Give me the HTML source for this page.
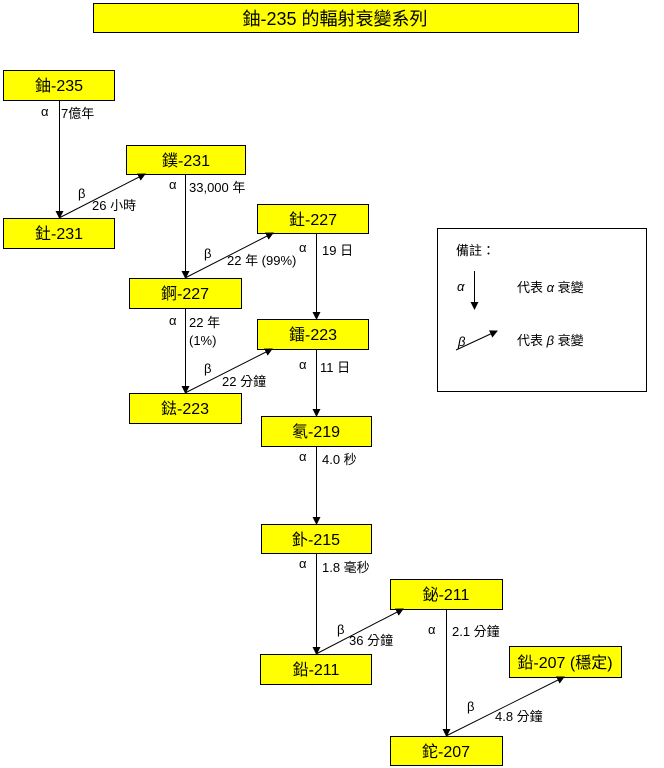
<!DOCTYPE html>
<html><head><meta charset="utf-8"><style>
body{margin:0;background:#fff;}
svg{display:block;}
text{font-family:"Liberation Sans","Noto Sans CJK TC",sans-serif;font-size:13px;fill:#000;}
.b text{font-size:16px;}
.b text.t{font-size:18px;}
</style></head><body>
<svg width="664" height="768" viewBox="0 0 664 768" xmlns="http://www.w3.org/2000/svg">
<defs><marker id="a" markerWidth="8" markerHeight="8" refX="7" refY="4" orient="auto" markerUnits="userSpaceOnUse"><path d="M0,0 L8,4 L0,8 z" fill="#000"/></marker></defs>
<g fill="#ffff00" stroke="#000" stroke-width="1">
<rect x="93.5" y="3.5" width="485" height="29"/>
<rect x="3.5" y="70.5" width="111" height="30"/>
<rect x="126.5" y="145.5" width="119" height="29"/>
<rect x="3.5" y="218.5" width="111" height="30"/>
<rect x="257.5" y="204.5" width="111" height="29"/>
<rect x="129.5" y="278.5" width="112" height="30"/>
<rect x="257.5" y="319.5" width="111" height="30"/>
<rect x="129.5" y="393.5" width="112" height="30"/>
<rect x="261.5" y="416.5" width="110" height="30"/>
<rect x="261.5" y="524.5" width="110" height="29"/>
<rect x="390.5" y="579.5" width="112" height="30"/>
<rect x="260.5" y="654.5" width="111" height="30"/>
<rect x="509.5" y="646.5" width="112" height="31"/>
<rect x="390.5" y="736.5" width="112" height="29"/>
</g>
<rect x="437.5" y="228.5" width="209" height="163" fill="none" stroke="#000"/>
<g class="b" text-anchor="middle">
<text class="t" x="335" y="25">鈾-235 的輻射衰變系列</text>
<text x="59" y="91">鈾-235</text>
<text x="186" y="166">鏷-231</text>
<text x="59" y="239">釷-231</text>
<text x="313" y="225">釷-227</text>
<text x="185" y="299">錒-227</text>
<text x="313" y="340">鐳-223</text>
<text x="185" y="414">鍅-223</text>
<text x="316" y="437">氡-219</text>
<text x="316" y="545">釙-215</text>
<text x="446" y="600">鉍-211</text>
<text x="316" y="675">鉛-211</text>
<text x="565" y="668">鉛-207 (穩定)</text>
<text x="446" y="757">鉈-207</text>
</g>
<g stroke="#000" stroke-width="1" marker-end="url(#a)">
<line x1="59.5" y1="101" x2="59.5" y2="218"/>
<line x1="185.5" y1="175" x2="185.5" y2="278"/>
<line x1="185.5" y1="309" x2="185.5" y2="393"/>
<line x1="316.5" y1="234" x2="316.5" y2="319"/>
<line x1="316.5" y1="350" x2="316.5" y2="416"/>
<line x1="316.5" y1="447" x2="316.5" y2="524"/>
<line x1="316.5" y1="554" x2="316.5" y2="654"/>
<line x1="446.5" y1="610" x2="446.5" y2="736"/>
<line x1="59" y1="218" x2="145" y2="174"/>
<line x1="185" y1="278" x2="273" y2="233"/>
<line x1="185" y1="393" x2="272" y2="349"/>
<line x1="316" y1="654" x2="403" y2="609"/>
<line x1="446" y1="736" x2="564" y2="677"/>
<line x1="474.5" y1="271" x2="474.5" y2="309"/>
<line x1="456" y1="350" x2="497" y2="331"/>
</g>
<text x="41" y="116">α</text><text x="61" y="118">7億年</text>
<text x="78" y="198">β</text><text x="92" y="210">26 小時</text>
<text x="169" y="189">α</text><text x="189" y="192">33,000 年</text>
<text x="204" y="258">β</text><text x="227" y="265">22 年 (99%)</text>
<text x="299" y="252">α</text><text x="322" y="255">19 日</text>
<text x="169" y="325">α</text><text x="189" y="327">22 年</text><text x="189" y="345">(1%)</text>
<text x="204" y="373">β</text><text x="222" y="386">22 分鐘</text>
<text x="299" y="369">α</text><text x="320" y="372">11 日</text>
<text x="299" y="461">α</text><text x="322" y="464">4.0 秒</text>
<text x="299" y="568">α</text><text x="322" y="572">1.8 毫秒</text>
<text x="337" y="634">β</text><text x="349" y="645">36 分鐘</text>
<text x="428" y="634">α</text><text x="452" y="636">2.1 分鐘</text>
<text x="467" y="711">β</text><text x="495" y="721">4.8 分鐘</text>
<text x="456" y="255">備註：</text>
<text x="457" y="291" font-style="italic">α</text>
<text x="517" y="292">代表 <tspan font-style="italic">α</tspan> 衰變</text>
<text x="458" y="346" font-style="italic">β</text>
<text x="517" y="345">代表 <tspan font-style="italic">β</tspan> 衰變</text>
</svg>
</body></html>
